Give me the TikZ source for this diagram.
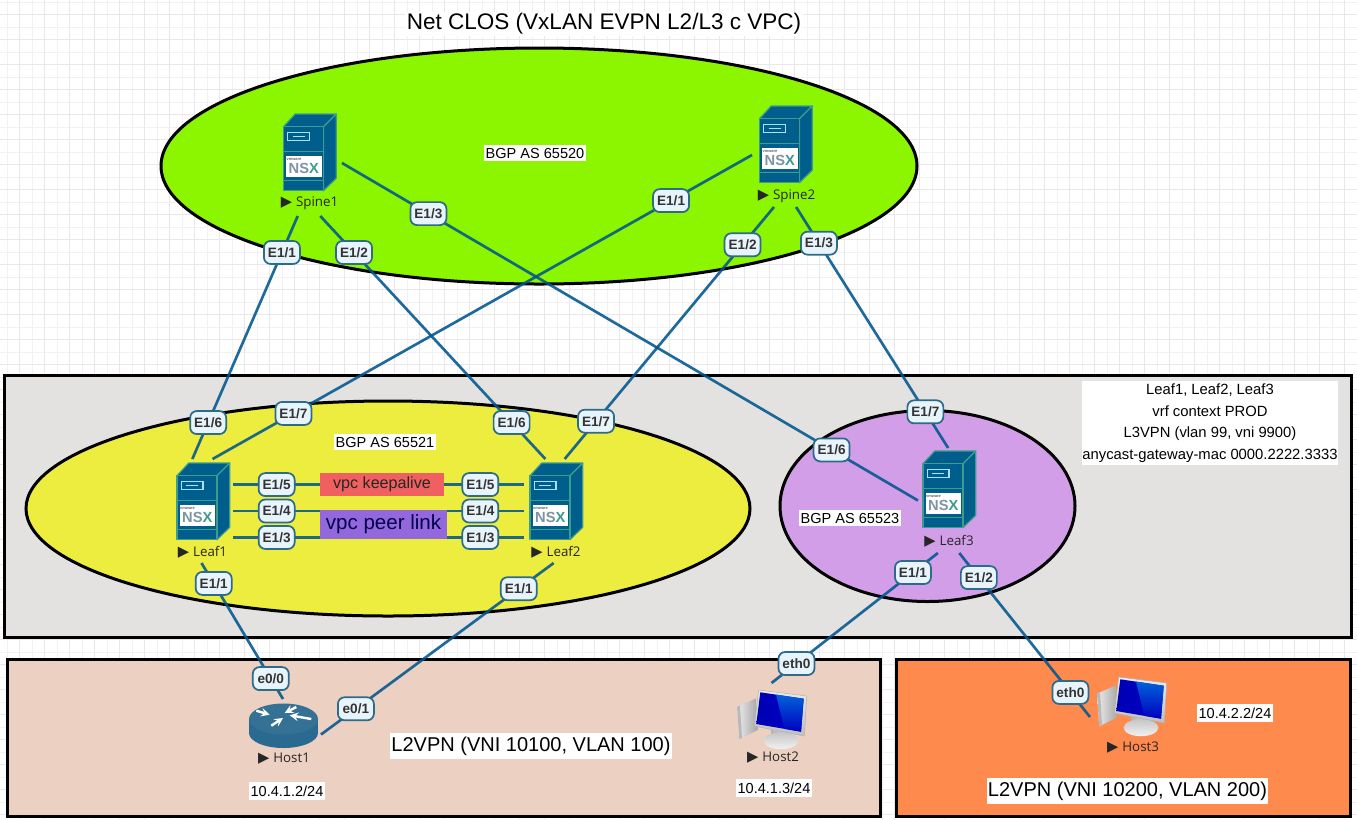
\documentclass[tikz,border=0pt]{standalone}
\usepackage{fontspec}
\setmainfont{Liberation Sans}
\newfontfamily\devfont{Open Sans}
\newfontfamily\symfont{DejaVu Sans}
\usetikzlibrary{shapes.geometric}

\definecolor{gridminor}{HTML}{F3F1F3}
\definecolor{gridmajor}{HTML}{E9E7E9}
\definecolor{spinegreen}{HTML}{8CF500}
\definecolor{leafyellow}{HTML}{EDED40}
\definecolor{leafpurple}{HTML}{D29EE8}
\definecolor{fabricgrey}{HTML}{E4E2E0}
\definecolor{hostpeach}{HTML}{ECD0C2}
\definecolor{hostorange}{HTML}{FF8A4D}
\definecolor{keepred}{HTML}{F06060}
\definecolor{peerviolet}{HTML}{9368DC}
\definecolor{linkblue}{HTML}{00568F}
\definecolor{portfill}{HTML}{E8F4FC}
\definecolor{portedge}{HTML}{2E6B8A}
\definecolor{srvblue}{HTML}{005E8C}
\definecolor{srvtrim}{HTML}{3E9C8E}
\definecolor{nsxslate}{HTML}{7D95A3}
\definecolor{routertop}{HTML}{357095}
\definecolor{routerbody}{HTML}{2B6A90}

\newcommand{\devname}[1]{{\symfont\fontsize{11}{11}\selectfont ▶}\hspace{3pt}#1}

\tikzset{
  sized/.style 2 args={minimum width=#1*.75pt,minimum height=#2*.75pt,inner sep=0pt,outer sep=0pt},
  zone/.style={draw=black,line width=2.25pt},
  devbox/.style={rectangle},
  devlabel/.style={inner sep=0pt,text=black!85,font=\devfont\fontsize{10}{12}\selectfont},
  tag/.style={fill=white,inner xsep=1.5pt,inner ysep=2.5pt,font=\fontsize{10.9}{12}\selectfont},
  biglabel/.style={fill=white,inner xsep=1pt,inner ysep=2.5pt,font=\fontsize{15}{17}\selectfont},
  link/.style={draw=linkblue,draw opacity=.88,line width=2pt},
  port/.style={draw=portedge,draw opacity=1,fill=portfill,line width=1.3pt,rounded corners=5pt,
    minimum width=36*.75pt,minimum height=23*.75pt,inner sep=0pt,
    text=black!80,font=\bfseries\fontsize{10.2}{11}\selectfont},
  portnear/.style={port,pos=.15},
  portfar/.style={port,pos=.85},
  srv/.style={fill=srvblue,draw=srvtrim,line width=.9pt,line join=round},
  pics/nsxserver/.style={code={
    \path[srv] (0,12.7) -- (11.7,0) -- (52.7,0) -- (40,12.7) -- cycle;
    \path[srv] (40,12.7) -- (52.7,0) -- (52.7,64.3) -- (40,76.7) -- cycle;
    \path[srv] (0,12.7) rectangle (40,76.7);
    \draw[srvtrim,line width=.9pt] (0,37.7) -- (40,37.7) (0,66.7) -- (40,66.7);
    \draw[cyan!35,line width=.9pt] (4.3,18.3) rectangle (26,26.7);
    \draw[cyan!35,line width=.9pt] (9,22.5) -- (21,22.5);
    \fill[white] (2.7,42) rectangle (38,62.7);
    \node[inner sep=0pt,font=\bfseries\fontsize{3}{3}\selectfont,text=black!60] (-vm) at (10.5,45.5) {vmware};
    \node[inner sep=0pt,font=\bfseries\fontsize{11}{11}\selectfont,text=nsxslate] (-nsx) at (20.3,54.5) {NS\textcolor{srvtrim}{X}};
  }},
  pics/routericon/.style={code={
    \fill[routerbody] (0,16) rectangle (69,30);
    \fill[routerbody] (34.5,30) ellipse [x radius=34.5,y radius=15];
    \fill[routertop] (34.5,16) ellipse [x radius=34.5,y radius=15.5];
    \draw[white,line width=1.8pt,->,>=stealth] (7.3,7.7) -- (20.7,11.7);
    \draw[white,line width=1.8pt,->,>=stealth] (47.3,4) -- (35.7,10);
    \draw[white,line width=1.8pt,->,>=stealth] (62.3,16) -- (40.7,12.3);
    \draw[white,line width=1.8pt,->,>=stealth] (22.3,22.7) -- (34,15);
  }},
  pics/hosticon/.style={code={
    \path[left color=gray!15,right color=gray!70] (0,16.7) -- (19,8.3) -- (20.7,40) -- (2.3,49.3) -- cycle;
    \fill[gray!55] (0,16.7) -- (3,15.4) -- (5,48) -- (2.3,49.3) -- cycle;
    \path[left color=gray!60,right color=gray!25] (34,40) -- (54,43) -- (53,52) -- (36,52) -- cycle;
    \path[top color=gray!45,bottom color=gray!10] (44,50.7) ellipse [x radius=17.3,y radius=8.5];
    \path[top color=gray!15,bottom color=gray!50,draw=gray!60,line width=.4pt] (21.7,0) -- (69.7,6) -- (67.3,46) -- (17.3,36) -- cycle;
    \path[left color=blue!70!black,right color=blue!80!black] (23.3,2.3) -- (66.7,8.7) -- (64,41.7) -- (19.3,34) -- cycle;
    \path[top color=blue!55!cyan!85!black,bottom color=blue!75!black] (39,4.6) -- (66.7,8.7) -- (64,41.7) -- (47.3,38.8) -- cycle;
  }},
}

\begin{document}
\begin{tikzpicture}[x=.75pt,y=-.75pt]
  \useasboundingbox (0,0) rectangle (1357,819);
  \fill[white] (0,0) rectangle (1357,819);
  \foreach \gx in {7,32,...,1357} \draw[gridminor,line width=.75pt] (\gx,0) -- (\gx,819);
  \foreach \gy in {2,27,...,819} \draw[gridminor,line width=.75pt] (0,\gy) -- (1357,\gy);
  \foreach \gx in {19,44,...,1357} \draw[gridmajor,line width=.75pt] (\gx,0) -- (\gx,819);
  \foreach \gy in {14,39,...,819} \draw[gridmajor,line width=.75pt] (0,\gy) -- (1357,\gy);

  % areas
  \node[zone,rectangle,fill=fabricgrey,sized={1347}{262}] (fabric) at (677.5,506) {};
  \node[zone,rectangle,fill=hostpeach,sized={873}{157}] (vni100) at (443.5,737.5) {};
  \node[zone,rectangle,fill=hostorange,sized={454}{157}] (vni200) at (1123,737.5) {};
  \node[zone,ellipse,fill=spinegreen,sized={756}{236}] (spinezone) at (539,166) {};
  \node[zone,ellipse,fill=leafyellow,sized={724}{215}] (vpczone) at (388,508.5) {};
  \node[zone,ellipse,fill=leafpurple,sized={295}{191}] (leaf3zone) at (927.5,506) {};

  % texts
  \node[fill=white,inner sep=1pt,font=\fontsize{16.9}{19}\selectfont] (title) at (604,24) {Net CLOS (VxLAN EVPN L2/L3 c VPC)};
  \node[tag] (as65520) at (535,153) {BGP AS 65520};
  \node[tag] (as65521) at (385,442) {BGP AS 65521};
  \node[tag] (as65523) at (850,518) {BGP AS 65523};
  \node[tag,align=center,inner xsep=0pt,font=\fontsize{11.1}{16.1}\selectfont] (vrfnote) at (1210,423) {Leaf1, Leaf2, Leaf3\\vrf context PROD\\L3VPN (vlan 99, vni 9900)\\anycast-gateway-mac 0000.2222.3333};
  \node[biglabel] (l2vpn100) at (531,746) {L2VPN (VNI 10100, VLAN 100)};
  \node[biglabel] (l2vpn200) at (1127.5,791) {L2VPN (VNI 10200, VLAN 200)};
  \node[tag] (ip1) at (287,791) {10.4.1.2/24};
  \node[tag] (ip2) at (774,788) {10.4.1.3/24};
  \node[tag] (ip3) at (1235,713) {10.4.2.2/24};

  % devices
  \node[devbox,sized={66}{106}] (spine1) at (309,163) {};
  \node[devbox,sized={68}{104}] (spine2) at (786,155) {};
  \node[devbox,sized={63}{104}] (leaf1) at (201.5,511) {};
  \node[devbox,sized={63}{104}] (leaf2) at (555.5,511) {};
  \node[devbox,sized={64}{105}] (leaf3) at (950,500.5) {};
  \node[devbox,sized={76}{71}] (host1) at (283,734.5) {};
  \node[devbox,sized={72}{88}] (host2) at (771.5,727) {};
  \node[devbox,sized={82}{86}] (host3) at (1131,717) {};
  \pic (spine1icon) at (283.5,114) {nsxserver};
  \pic (spine2icon) at (759.5,106) {nsxserver};
  \pic (leaf1icon) at (177,463) {nsxserver};
  \pic (leaf2icon) at (530,463) {nsxserver};
  \pic (leaf3icon) at (923,451) {nsxserver};
  \pic (host1icon) at (249,703) {routericon};
  \pic (host2icon) at (737,690) {hosticon};
  \pic (host3icon) at (1097,677) {hosticon};
  \node[devlabel] (spine1name) at (309.5,203) {\devname{Spine1}};
  \node[devlabel] (spine2name) at (786.5,196) {\devname{Spine2}};
  \node[devlabel] (leaf1name) at (202.5,552) {\devname{Leaf1}};
  \node[devlabel] (leaf2name) at (556,552) {\devname{Leaf2}};
  \node[devlabel] (leaf3name) at (949,541) {\devname{Leaf3}};
  \node[devlabel] (host1name) at (284,759) {\devname{Host1}};
  \node[devlabel] (host2name) at (773,758) {\devname{Host2}};
  \node[devlabel] (host3name) at (1133,748) {\devname{Host3}};

  % links
  \path[link]
  (spine1.258) edge node [portnear] (p1a) {E1/1} node [portfar] (p1b) {E1/6} (leaf1.100)
  (spine1.282) edge node [portnear] (p2a) {E1/2} node [portfar] (p2b) {E1/6} (leaf2.101)
  (spine1.east) edge node [portnear] (p3a) {E1/3} node [portfar] (p3b) {E1/6} (leaf3.west)
  (spine2.west) edge node [portnear] (p4a) {E1/1} node [portfar] (p4b) {E1/7} (leaf1.78)
  (spine2.257) edge node [portnear] (p5a) {E1/2} node [portfar] (p5b) {E1/7} (leaf2.80)
  (spine2.281) edge node [portnear] (p6a) {E1/3} node [portfar] (p6b) {E1/7} (leaf3.92)
  (leaf1.40) edge node [portnear] (p7a) {E1/5} node [portfar] (p7b) {E1/5} (leaf2.140)
  (leaf1.east) edge node [portnear] (p8a) {E1/4} node [portfar] (p8b) {E1/4} (leaf2.west)
  (leaf1.-40) edge node [portnear] (p9a) {E1/3} node [portfar] (p9b) {E1/3} (leaf2.220)
  (leaf1.south) edge node [portnear] (p10a) {E1/1} node [portfar] (p10b) {e0/0} (host1.north)
  (leaf2.268) edge node [portnear] (p11a) {E1/1} node [portfar] (p11b) {e0/1} (host1.east)
  (leaf3.257) edge node [portnear] (p12a) {E1/1} node [portfar] (p12b) {eth0} (host2.north)
  (leaf3.280) edge node [portnear] (p13a) {E1/2} node [portfar] (p13b) {eth0} (host3.west)
  ;

  % vpc boxes sit on the links
  \node[fill=keepred,sized={124}{23},text=black!85,font=\fontsize{12.1}{14}\selectfont] (keepalive) at (382,484.5) {vpc keepalive};
  \node[fill=peerviolet,sized={127}{29},text=blue!30!black,font=\fontsize{15.4}{18}\selectfont] (peerlink) at (383.5,524.5) {vpc peer link};
\end{tikzpicture}
\end{document}
